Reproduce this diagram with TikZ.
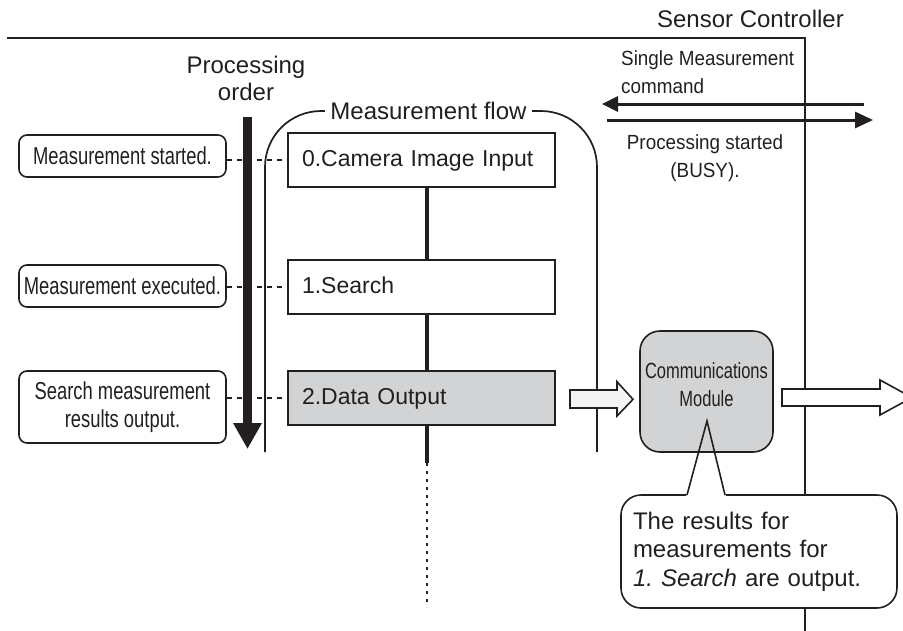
\documentclass[tikz,border=0pt]{standalone}
\usepackage{fontspec}
\setmainfont{Liberation Sans}
\newfontfamily\narrowfont[FakeStretch=0.75]{Liberation Sans}
\newfontfamily\semifont[FakeStretch=0.92]{Liberation Sans}
\usetikzlibrary{arrows.meta}
\definecolor{ink}{HTML}{231F20}
\definecolor{boxgray}{HTML}{D1D3D4}
\definecolor{arrowfill}{HTML}{F4F4F4}
\frenchspacing
\begin{document}
\begin{tikzpicture}[x=1pt,y=-1pt,
  every node/.style={text=ink},
  frameline/.style={draw=ink, line width=1.7pt},
  notebox/.style={draw=ink, line width=1.6pt, rounded corners=8pt, minimum width=207pt, inner sep=0pt,
    font=\narrowfont\fontsize{24.5}{28}\selectfont, align=center, fill=white},
  stepbox/.style={draw=ink, line width=1.8pt, minimum width=267pt, minimum height=54pt, inner xsep=14pt,
    inner ysep=0pt, text width=239pt, align=left, font=\fontsize{23}{27}\selectfont, text height=17pt, text depth=5pt},
  dashline/.style={draw=ink, line width=1.4pt, dash pattern=on 5pt off 5pt},
  stepline/.style={draw=ink, line width=3.2pt},
  dotline/.style={draw=ink, line width=2.6pt, dash pattern=on 2.6pt off 5.4pt},
  sigarrow/.style={draw=ink, line width=3pt},
  blockarrow/.style={draw=ink, line width=1.6pt, line join=miter},
  bigtext/.style={font=\fontsize{24}{27}\selectfont},
  semitext/.style={font=\semifont\fontsize{20.5}{28}\selectfont}
]
\useasboundingbox (0,0) rectangle (903,630);

% Sensor controller frame
\draw[frameline] (7,37.7) -- (805,37.7) -- (805,631);
\node[bigtext, anchor=base] (sc) at (750.5,27) {Sensor Controller};

% Measurement flow frame
\draw[frameline, rounded corners=56pt] (265,452) -- (265,111) -- (597,111) -- (597,452);
\node[bigtext, fill=white, inner xsep=5pt, inner ysep=0pt] (mf) at (428.5,110.5) {Measurement flow};

% steps
\node[stepbox] (s0) at (421.5,160) {0.Camera Image Input};
\node[stepbox] (s1) at (421.5,287) {1.Search};
\node[stepbox, fill=boxgray] (s2) at (421.5,398) {2.Data Output};
\coordinate (xl) at (427,0);
\coordinate (dotA) at (427,463);
\coordinate (dotB) at (427,607);
\draw[stepline] (s0.south -| xl) -- (s1.north -| xl);
\draw[stepline] (s1.south -| xl) -- (s2.north -| xl);
\draw[stepline] (s2.south -| xl) -- (dotA);
\draw[dotline] (dotA) -- (dotB);

% notes
\node[notebox, minimum height=42pt] (n0) at (122.5,156) {Measurement started.};
\node[notebox, minimum height=42pt] (n1) at (122.5,286) {Measurement executed.};
\node[notebox, minimum height=72pt] (n2) at (122.5,407) {Search measurement\\results output.};
\draw[dashline] (n0.east |- s0.west) -- (s0.west);
\draw[dashline] (n1.east |- s1.west) -- (s1.west);
\draw[dashline] (n2.east |- s2.west) -- (s2.west);

% processing order
\node[bigtext, align=center, anchor=base] (po) at (246,100.7) {Processing\\order};
\coordinate (poA) at (247.5,117);
\coordinate (poB) at (247.5,449);
\draw[draw=ink, line width=9pt, -{Triangle[length=26pt,width=27pt]}] (poA) -- (poB);

% signals
\coordinate (cmdR) at (864,104);
\coordinate (cmdL) at (602,104);
\coordinate (bsyL) at (607,120);
\coordinate (bsyR) at (873,120);
\draw[sigarrow, -{Triangle[length=16pt,width=15pt]}] (cmdR) -- (cmdL);
\draw[sigarrow, -{Triangle[length=18pt,width=16pt]}] (bsyL) -- (bsyR);
\node[semitext, align=left, anchor=base west, inner sep=0pt] (smc) at (621,93) {Single Measurement\\command};
\node[semitext, align=center, anchor=base, inner sep=0pt] (psb) at (705,177) {Processing started\\(BUSY).};

% callout (behind module)
\node[draw=ink, line width=1.6pt, fill=white, rounded corners=20pt, minimum width=276pt, minimum height=113pt,
  inner xsep=12pt, inner ysep=0pt, text width=252pt, align=left, font=\fontsize{24}{28.5}\selectfont]
  (co) at (759,551.5) {The results for\\measurements for\\\textit{1. Search} are output.};
\coordinate (ptL) at (687,495);
\coordinate (ptR) at (725,495);
\coordinate (ptT) at (707,421);
\fill[white] (686,496.6) -- (ptT) -- (726,496.6) -- cycle;

% communications module
\node[draw=ink, line width=1.6pt, fill=boxgray, rounded corners=20pt, minimum width=133pt, minimum height=121pt]
  (cm) at (706.5,391.5) {};
\node[align=center, font=\narrowfont\fontsize{22}{28}\selectfont, inner sep=0pt] (cmt) at (706.5,385) {Communications\\Module};
\draw[draw=ink, line width=1.6pt, line join=miter] (ptL) -- (ptT) -- (ptR);

% block arrows
\draw[blockarrow, fill=arrowfill] (570,390) -- (617,390) -- (617,381.7) -- (633,399.3) -- (617,416) -- (617,408) -- (570,408) -- cycle;
\draw[blockarrow, fill=white] (782,389) -- (880,389) -- (880,380) -- (912,397.5) -- (880,415) -- (880,406) -- (782,406) -- cycle;
\end{tikzpicture}
\end{document}
